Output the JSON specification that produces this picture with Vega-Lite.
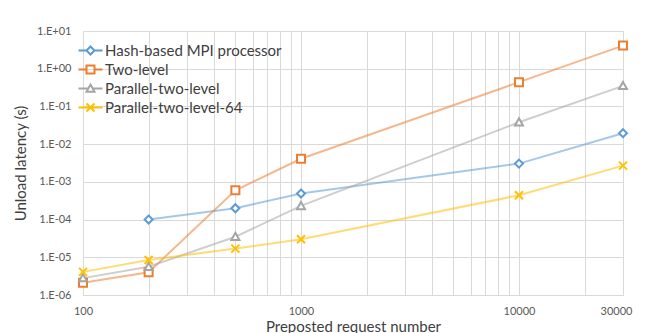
{
  "$schema": "https://vega.github.io/schema/vega-lite/v6.json",
  "width": 540,
  "height": 264,
  "autosize": {"type": "none"},
  "padding": {"left": 83, "top": 31, "right": 25, "bottom": 38},
  "background": "white",
  "config": {
    "view": {"stroke": null},
    "font": "Lato",
    "axis": {"gridColor": "#D9D9D9", "gridWidth": 1, "domainColor": "#D9D9D9", "ticks": false, "tickSize": 0, "labelColor": "#595959", "titleColor": "#404040", "labelFont": "Lato", "titleFont": "Lato", "titleFontWeight": "normal"}
  },
  "data": {
    "values": [
      {"series": "Hash-based MPI processor", "n": 200, "latency": 0.0001},
      {"series": "Hash-based MPI processor", "n": 500, "latency": 0.0002},
      {"series": "Hash-based MPI processor", "n": 1000, "latency": 0.00049},
      {"series": "Hash-based MPI processor", "n": 10000, "latency": 0.00305},
      {"series": "Hash-based MPI processor", "n": 30000, "latency": 0.0195},
      {"series": "Two-level", "n": 100, "latency": 0.0000021},
      {"series": "Two-level", "n": 200, "latency": 0.000004},
      {"series": "Two-level", "n": 500, "latency": 0.0006},
      {"series": "Two-level", "n": 1000, "latency": 0.0041},
      {"series": "Two-level", "n": 10000, "latency": 0.44},
      {"series": "Two-level", "n": 30000, "latency": 4.1},
      {"series": "Parallel-two-level", "n": 100, "latency": 0.0000028},
      {"series": "Parallel-two-level", "n": 200, "latency": 0.0000056},
      {"series": "Parallel-two-level", "n": 500, "latency": 0.000035},
      {"series": "Parallel-two-level", "n": 1000, "latency": 0.00023},
      {"series": "Parallel-two-level", "n": 10000, "latency": 0.038},
      {"series": "Parallel-two-level", "n": 30000, "latency": 0.35},
      {"series": "Parallel-two-level-64", "n": 100, "latency": 0.0000041},
      {"series": "Parallel-two-level-64", "n": 200, "latency": 0.0000085},
      {"series": "Parallel-two-level-64", "n": 500, "latency": 0.000017},
      {"series": "Parallel-two-level-64", "n": 1000, "latency": 0.00003},
      {"series": "Parallel-two-level-64", "n": 10000, "latency": 0.00044},
      {"series": "Parallel-two-level-64", "n": 30000, "latency": 0.0027}
    ]
  },
  "encoding": {
    "x": {
      "field": "n", "type": "quantitative",
      "scale": {"type": "log", "domain": [100, 30000], "nice": false},
      "axis": {
        "title": "Preposted request number",
        "values": [100, 200, 300, 400, 500, 600, 700, 800, 900, 1000, 2000, 3000, 4000, 5000, 6000, 7000, 8000, 9000, 10000, 20000, 30000],
        "labelExpr": "indexof([100,1000,10000,30000], datum.value) >= 0 ? '' + datum.value : ''",
        "labelFontSize": 11,
        "labelPadding": 10,
        "labelFlush": false,
        "labelOverlap": false,
        "labelOffset": {"condition": {"test": "datum.value == 30000", "value": -7}, "value": 0},
        "titleFontSize": 15,
        "titleBaseline": "alphabetic",
        "titleY": 36
      }
    },
    "y": {
      "field": "latency", "type": "quantitative",
      "scale": {"type": "log", "domain": [0.000001, 10], "nice": false},
      "axis": {
        "title": "Unload latency (s)",
        "values": [0.000001, 0.00001, 0.0001, 0.001, 0.01, 0.1, 1, 10],
        "labelExpr": "'1.E' + (round(log(datum.value)/LN10) < 0 ? '-' : '+') + (abs(round(log(datum.value)/LN10)) < 10 ? '0' : '') + abs(round(log(datum.value)/LN10))",
        "labelFontSize": 11,
        "labelPadding": 12,
        "titleFontSize": 15,
        "titlePadding": 8
      }
    }
  },
  "layer": [
    {
      "mark": {"type": "line", "strokeWidth": 2, "opacity": 0.55},
      "encoding": {
        "color": {
          "field": "series", "type": "nominal",
          "scale": {"domain": ["Hash-based MPI processor", "Two-level", "Parallel-two-level", "Parallel-two-level-64"], "range": ["#5B9BD5", "#ED7D31", "#A5A5A5", "#FFC000"]},
          "legend": null
        },
        "order": {"field": "n", "type": "quantitative"}
      }
    },
    {
      "mark": {"type": "point", "filled": false, "fill": "white", "fillOpacity": 1, "opacity": 1, "strokeWidth": 2, "size": 64},
      "encoding": {
        "color": {
          "field": "series", "type": "nominal",
          "scale": {"domain": ["Hash-based MPI processor", "Two-level", "Parallel-two-level", "Parallel-two-level-64"], "range": ["#5B9BD5", "#ED7D31", "#A5A5A5", "#FFC000"]},
          "legend": null
        },
        "shape": {
          "field": "series", "type": "nominal",
          "scale": {"domain": ["Hash-based MPI processor", "Two-level", "Parallel-two-level", "Parallel-two-level-64"], "range": ["M0,-1L1,0L0,1L-1,0Z", "M-1,-1H1V1H-1Z", "M0,-1L1,0.8H-1Z", "M-1,-1L1,1M-1,1L1,-1"]},
          "legend": null
        }
      }
    },
    {
      "mark": {"type": "point", "filled": false, "strokeWidth": 2, "size": 0, "opacity": 1},
      "encoding": {
        "color": {
          "field": "series", "type": "nominal",
          "scale": {"domain": ["Hash-based MPI processor", "Two-level", "Parallel-two-level", "Parallel-two-level-64"], "range": ["#5B9BD5", "#ED7D31", "#A5A5A5", "#FFC000"]},
          "legend": {
            "title": null, "orient": "none", "legendX": 0, "legendY": 12, "padding": 0,
            "symbolSize": 64, "symbolStrokeWidth": 2, "labelFontSize": 15, "labelColor": "#404040", "labelFont": "Lato",
            "labelOffset": 7, "rowPadding": 2, "labelLimit": 400
          }
        },
        "shape": {
          "field": "series", "type": "nominal",
          "scale": {"domain": ["Hash-based MPI processor", "Two-level", "Parallel-two-level", "Parallel-two-level-64"], "range": ["M-3,0H-1M1,0H3M0,-1L1,0L0,1L-1,0Z", "M-3,0H-1M1,0H3M-1,-1H1V1H-1Z", "M-3,0H-0.55M0.55,0H3M0,-1L1,0.8H-1Z", "M-3,0H3M-1,-1L1,1M-1,1L1,-1"]},
          "legend": {
            "title": null, "orient": "none", "legendX": 0, "legendY": 12, "padding": 0,
            "symbolSize": 64, "symbolStrokeWidth": 2, "labelFontSize": 15, "labelColor": "#404040", "labelFont": "Lato",
            "labelOffset": 7, "rowPadding": 2, "labelLimit": 400
          }
        }
      }
    }
  ],
  "resolve": {"scale": {"color": "independent", "shape": "independent"}}
}
